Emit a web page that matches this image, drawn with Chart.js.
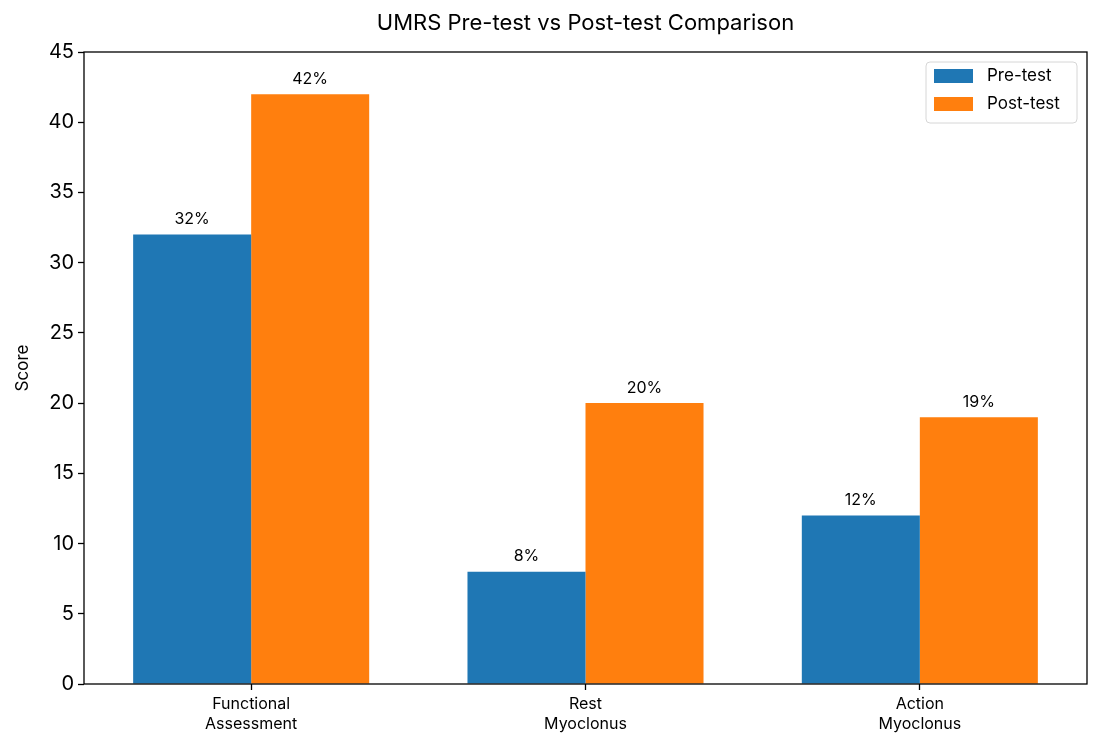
<!DOCTYPE html>
<html>
<head>
<meta charset="utf-8">
<script src="https://cdn.jsdelivr.net/npm/chart.js@4/dist/chart.umd.min.js"></script>
<style>
  html, body { margin: 0; padding: 0; background: #fff; }
  #wrap { width: 1100px; height: 750px; }
</style>
</head>
<body>
<div id="wrap"><canvas id="chart" width="1100" height="750"></canvas></div>
<script>
const categories = [["Functional", "Assessment"], ["Rest", "Myoclonus"], ["Action", "Myoclonus"]];
const pre_test = [32, 8, 12];
const post_test = [42, 20, 19];
const series_names = ["Pre-test", "Post-test"];
const series_colors = ["#1f77b4", "#ff7f0e"];
const y_ticks = [0, 5, 10, 15, 20, 25, 30, 35, 40, 45];

const font_family = "Inter, 'Open Sans', sans-serif";

// box round the plot, title, legend and value labels, matplotlib style
const decorations = {
    id: "decorations",
    afterDatasetsDraw(chart) {
        const ctx = chart.ctx;
        const a = chart.chartArea;
        ctx.save();

        // value labels
        ctx.fillStyle = "#000";
        ctx.font = "16px " + font_family;
        ctx.textAlign = "center";
        ctx.textBaseline = "bottom";
        chart.data.datasets.forEach((ds, i) => {
            chart.getDatasetMeta(i).data.forEach((bar, j) => {
                ctx.fillText(ds.data[j] + "%", bar.x, bar.y - 7);
            });
        });

        // frame
        ctx.strokeStyle = "#000";
        ctx.lineWidth = 1.3;
        ctx.strokeRect(a.left, a.top, a.right - a.left, a.bottom - a.top);

        // title
        ctx.font = "22px " + font_family;
        ctx.textBaseline = "middle";
        ctx.fillText("UMRS Pre-test vs Post-test Comparison", (a.left + a.right) / 2, 23);

        // legend
        const lx = a.right - 161, ly = a.top + 10, lw = 151, lh = 61;
        ctx.fillStyle = "rgba(255,255,255,0.8)";
        ctx.strokeStyle = "#d6d6d6";
        ctx.lineWidth = 1;
        ctx.beginPath();
        ctx.roundRect(lx, ly, lw, lh, 4);
        ctx.fill();
        ctx.stroke();
        ctx.font = "17px " + font_family;
        ctx.textAlign = "left";
        series_names.forEach((name, i) => {
            const cy = ly + 14 + i * 28;
            ctx.fillStyle = series_colors[i];
            ctx.fillRect(lx + 8, cy - 7, 39, 14);
            ctx.fillStyle = "#000";
            ctx.fillText(name, lx + 61, cy);
        });

        ctx.restore();
    }
};

const ctx = document.getElementById("chart").getContext("2d");
const chart = new Chart(ctx, {
    type: "bar",
    data: {
        labels: categories,
        datasets: [
            { label: series_names[0], data: pre_test, backgroundColor: series_colors[0] },
            { label: series_names[1], data: post_test, backgroundColor: series_colors[1] },
        ],
    },
    options: {
        responsive: false,
        animation: false,
        devicePixelRatio: 1,
        layout: { padding: { top: 52, right: 13, left: 13, bottom: 0 } },
        datasets: { bar: { barPercentage: 1.0, categoryPercentage: 0.706 } },
        plugins: {
            legend: { display: false },
            title: { display: false },
            tooltip: { enabled: false },
        },
        scales: {
            x: {
                grid: { display: true, offset: false, drawOnChartArea: false, tickLength: 6, color: "#000", tickWidth: 1.3 },
                border: { display: false },
                ticks: { color: "#000", font: { family: font_family, size: 16, lineHeight: 1.2 }, padding: 5, maxRotation: 0 },
                afterFit(scale) { scale.height = 66; },
            },
            y: {
                min: 0,
                max: 45,
                afterBuildTicks(scale) { scale.ticks = y_ticks.map((v) => ({ value: v })); },
                grid: { display: true, drawOnChartArea: false, tickLength: 6, color: "#000", tickWidth: 1.3 },
                border: { display: false },
                ticks: { color: "#000", font: { family: font_family, size: 20 }, padding: 4 },
                title: { display: true, text: "Score", color: "#000", font: { family: font_family, size: 17 }, padding: 0 },
                afterFit(scale) { scale.width = 71; },
            },
        },
    },
    plugins: [decorations],
});
</script>
</body>
</html>
